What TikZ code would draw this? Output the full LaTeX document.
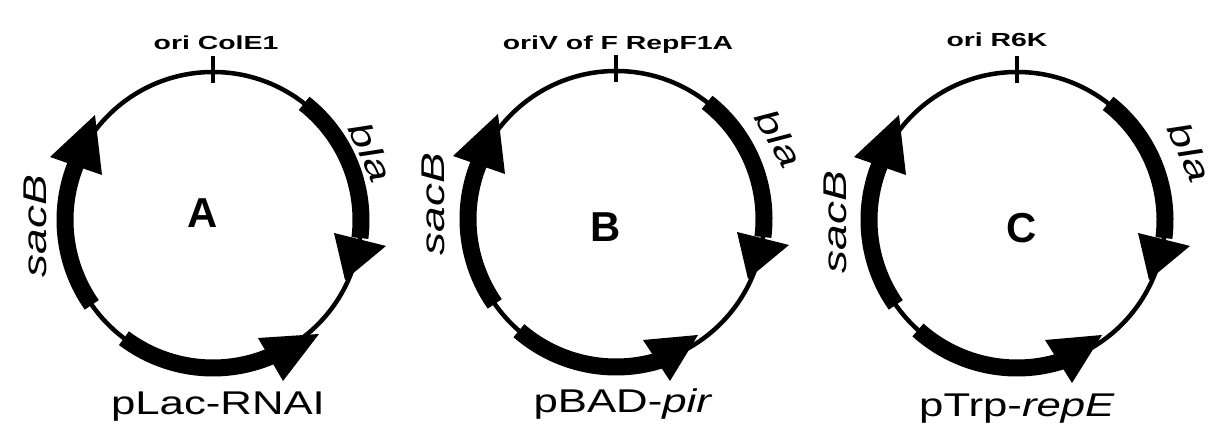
\documentclass[tikz,border=0pt]{standalone}
\usepackage{fontspec}
\setmainfont{Liberation Sans}
\newcommand\orilab[1]{{\fontsize{19}{19}\selectfont\bfseries\scalebox{1.5}[1]{#1}}}
\newcommand\mainlab[1]{{\fontsize{33}{33}\selectfont\scalebox{1.33}[1]{#1}}}
\newcommand\genelab[1]{{\fontsize{33}{33}\selectfont\scalebox{1.4}[1]{\itshape #1}}}
\newcommand\letlab[1]{{\fontsize{42}{42}\selectfont\bfseries #1}}
\begin{document}
\begin{tikzpicture}[x=1bp,y=1bp,
  backbone/.style={line width=4.5bp,black},
  gene/.style={line width=17bp,black},
  oritick/.style={line width=4.5bp,black},
  head/.style={fill=black},
  lab/.style={inner sep=0pt,outer sep=0pt}]
\useasboundingbox (0,0) rectangle (1225,445);
\fill[white] (0,0) rectangle (1225,445);

% ---------- Plasmid A ----------
\begin{scope}[shift={(213,225)}]
  \draw[backbone] (0,0) circle[radius=148];
  \draw[oritick] (90:137) -- (90:164);
  \draw[gene] (52:148) arc[start angle=52,end angle=-7,radius=148];
  \fill[head] (121,-13) -- (173,-26) -- (132,-60) -- cycle;
  \draw[gene] (215:148) arc[start angle=215,end angle=157,radius=148];
  \fill[head] (-163,63) -- (-111,45) -- (-118,105) -- cycle;
  \draw[gene] (233:148) arc[start angle=233,end angle=298,radius=148];
  \fill[head] (45,-118) -- (106,-114) -- (70,-161) -- cycle;
\end{scope}
\node[lab,anchor=base] (oriA) at (216,395) {\orilab{ori ColE1}};
\node[lab,anchor=base] (nameA) at (218,30) {\mainlab{pLac-RNAI}};
\node[lab] (letA) at (203,232) {\letlab{A}};
\node[lab,rotate=90] (sacA) at (35,219) {\genelab{sacB}};
\node[lab,rotate=-66] (blaA) at (371,293) {\genelab{bla}};

% ---------- Plasmid B ----------
\begin{scope}[shift={(616,226)}]
  \draw[backbone] (0,0) circle[radius=148];
  \draw[oritick] (90:137) -- (90:164);
  \draw[gene] (52:148) arc[start angle=52,end angle=-7,radius=148];
  \fill[head] (121,-13) -- (173,-26) -- (132,-60) -- cycle;
  \draw[gene] (215:148) arc[start angle=215,end angle=157,radius=148];
  \fill[head] (-163,63) -- (-111,45) -- (-118,105) -- cycle;
  \draw[gene] (229:148) arc[start angle=229,end angle=290,radius=148];
  \fill[head] (27,-121) -- (82,-116) -- (54,-162) -- cycle;
\end{scope}
\node[lab,anchor=base] (oriB) at (618,395) {\orilab{oriV of F RepF1A}};
\node[lab,anchor=base] (nameB) at (623,32) {\mainlab{pBAD-\textit{pir}}};
\node[lab] (letB) at (606,218) {\letlab{B}};
\node[lab,rotate=90] (sacBn) at (433,241) {\genelab{sacB}};
\node[lab,rotate=-60] (blaB) at (779,307) {\genelab{bla}};

% ---------- Plasmid C ----------
\begin{scope}[shift={(1017,225)}]
  \draw[backbone] (0,0) circle[radius=148];
  \draw[oritick] (90:137) -- (90:164);
  \draw[gene] (52:148) arc[start angle=52,end angle=-7,radius=148];
  \fill[head] (121,-13) -- (173,-26) -- (132,-60) -- cycle;
  \draw[gene] (215:148) arc[start angle=215,end angle=157,radius=148];
  \fill[head] (-163,63) -- (-111,45) -- (-118,105) -- cycle;
  \draw[gene] (228:148) arc[start angle=228,end angle=290,radius=148];
  \fill[head] (28,-120) -- (85,-115) -- (55,-163) -- cycle;
\end{scope}
\node[lab,anchor=base] (oriC) at (997,398) {\orilab{ori R6K}};
\node[lab,anchor=base] (nameC) at (1017,28) {\mainlab{pTrp-\textit{repE}}};
\node[lab] (letC) at (1022,217) {\letlab{C}};
\node[lab,rotate=90] (sacC) at (835,223) {\genelab{sacB}};
\node[lab,rotate=-66] (blaC) at (1190,293) {\genelab{bla}};
\end{tikzpicture}
\end{document}
